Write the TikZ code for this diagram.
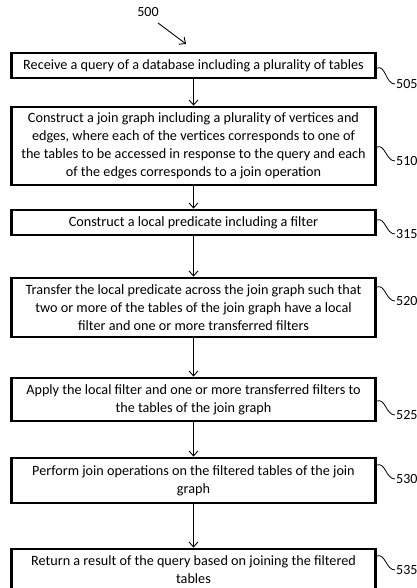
\documentclass[tikz,border=0pt]{standalone}
\usepackage{fontspec}
\setmainfont{Carlito}
\usetikzlibrary{arrows.meta}
\tikzset{
  stepbox/.style={draw, line width=2.8pt, minimum width=364pt, align=center, inner sep=0pt, font=\fontsize{14.2}{18}\selectfont},
  flow/.style={line width=0.9pt, -{Straight Barb[length=5pt,width=9pt,line width=0.9pt]}},
  reflabel/.style={anchor=west, inner sep=0pt, font=\fontsize{14}{16}\selectfont},
  squig/.style={line width=0.8pt},
}
\begin{document}
\begin{tikzpicture}[x=1pt,y=-1pt]
\useasboundingbox (0,0) rectangle (416,588);
\clip (0,0) rectangle (416,588);
\node[font=\fontsize{14}{16}\selectfont] (l500) at (148,12) {500};
\coordinate (a500s) at (158,23);
\coordinate (a500e) at (186,44);
\draw[flow] (a500s) -- (a500e);

\node[stepbox, minimum height=25pt] (b1) at (193.5,65.5) {Receive a query of a database including a plurality of tables};
\node[stepbox, minimum height=78pt] (b2) at (193.5,146) {Construct a join graph including a plurality of vertices and\\ edges, where each of the vertices corresponds to one of\\ the tables to be accessed in response to the query and each\\ of the edges corresponds to a join operation};
\node[stepbox, minimum height=25pt] (b3) at (193.5,222.5) {Construct a local predicate including a filter};
\node[stepbox, minimum height=59pt] (b4) at (193.5,307.5) {Transfer the local predicate across the join graph such that\\ two or more of the tables of the join graph have a local\\ filter and one or more transferred filters};
\node[stepbox, minimum height=43pt] (b5) at (193.5,399.5) {Apply the local filter and one or more transferred filters to\\ the tables of the join graph};
\node[stepbox, minimum height=45pt] (b6) at (193.5,480.5) {Perform join operations on the filtered tables of the join\\ graph};
\node[stepbox, minimum height=42pt] (b7) at (193.5,570) {Return a result of the query based on joining the filtered\\ tables};

\draw[flow] (b1) -- (b2);
\draw[flow] (b2) -- (b3);
\draw[flow] (b3) -- (b4);
\draw[flow] (b4) -- (b5);
\draw[flow] (b5) -- (b6);
\draw[flow] (b6) -- (b7);

\node[reflabel] (l505) at (396,84) {505};
\node[reflabel] (l510) at (396,161) {510};
\node[reflabel] (l315) at (396,234) {315};
\node[reflabel] (l520) at (396,301) {520};
\node[reflabel] (l525) at (396,415) {525};
\node[reflabel] (l530) at (396,479) {530};
\node[reflabel] (l535) at (396,570) {535};

\draw[squig] (b1.east |- 0,68) to[out=20,in=180] ([xshift=-1pt]l505.west);
\draw[squig] (b2.east |- 0,147) to[out=20,in=180] ([xshift=-1pt]l510.west);
\draw[squig] (b3.east |- 0,220) to[out=20,in=180] ([xshift=-1pt]l315.west);
\draw[squig] (b4.east |- 0,287) to[out=20,in=180] ([xshift=-1pt]l520.west);
\draw[squig] (b5.east |- 0,401) to[out=20,in=180] ([xshift=-1pt]l525.west);
\draw[squig] (b6.east |- 0,465) to[out=20,in=180] ([xshift=-1pt]l530.west);
\draw[squig] (b7.east |- 0,556) to[out=20,in=180] ([xshift=-1pt]l535.west);
\end{tikzpicture}
\end{document}
